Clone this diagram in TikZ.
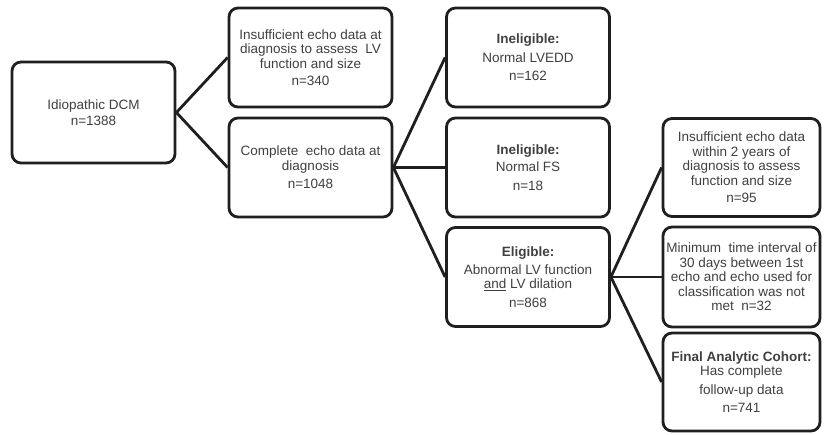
\documentclass[tikz,border=0pt]{standalone}
\usepackage{fontspec}
\setmainfont{Liberation Sans}
\usetikzlibrary{calc}

\begin{document}
\begin{tikzpicture}[x=1pt, y=-1pt,
    box/.style={draw=black!88, line width=2.8pt, rounded corners=9pt, align=center, text=black!75, inner sep=2pt, font=\fontsize{13.5}{14.5}\selectfont},
    widebox/.style={box, minimum width=163pt, minimum height=99pt},
    narrowbox/.style={box, minimum width=157pt, minimum height=98pt},
    link/.style={draw=black!88, line width=2.8pt}]
    \useasboundingbox[fill=white] (0,0) rectangle (824,435);
    \node[widebox, minimum height=101pt] (dcm) at (93.5,112.5) {Idiopathic DCM\\[2pt]n=1388};
    \node[widebox] (insuf) at (310.5,57.5) {Insufficient echo data at\\diagnosis to assess\ \ LV\\function and size\\[3pt]n=340};
    \node[widebox] (compl) at (310.5,167.5) {Complete\ \ echo data at\\diagnosis\\[4pt]n=1048};
    \node[widebox] (lvedd) at (528,57.5) {\textbf{Ineligible:}\\[4pt]Normal LVEDD\\[4pt]n=162};
    \node[widebox] (fs) at (528,167.5) {\textbf{Ineligible:}\\[3pt]Normal FS\\[4pt]n=18};
    \node[widebox] (elig) at (528,277) {\textbf{Eligible:}\\[3pt]Abnormal LV function\\\underline{and} LV dilation\\[4pt]n=868};
    \node[narrowbox] (insuf2) at (741.5,167.5) {Insufficient echo data\\within 2 years of\\diagnosis to assess\\function and size\\[3pt]n=95};
    \node[narrowbox, minimum height=100pt] (mintime) at (741.5,277) {Minimum\ \ time interval of\\30 days between 1st\\echo and echo used for\\classification was not\\met\ \ n=32};
    \node[narrowbox] (final) at (741.5,382) {\textbf{Final Analytic Cohort:}\\Has complete\\[4pt]follow-up data\\[4pt]n=741};
    \draw[link] (dcm.east) -- (insuf.west);
    \draw[link] (dcm.east) -- (compl.west);
    \draw[link] (compl.east) -- (lvedd.west);
    \draw[link] (compl.east) -- (fs.west);
    \draw[link] (compl.east) -- (elig.west);
    \draw[link] (elig.east) -- (insuf2.west);
    \draw[link] (elig.east) -- (mintime.west);
    \draw[link] (elig.east) -- (final.west);
\end{tikzpicture}
\end{document}
